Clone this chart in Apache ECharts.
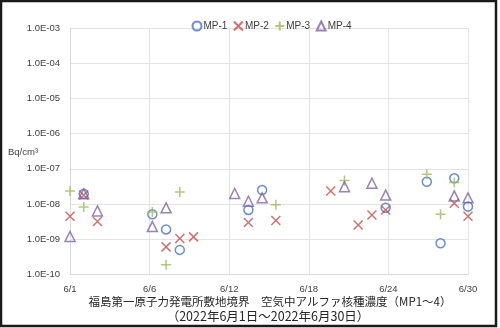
<!DOCTYPE html>
<html><head><meta charset="utf-8">
<script src="https://cdn.jsdelivr.net/npm/echarts@6/dist/echarts.min.js"></script>
<style>html,body{margin:0;padding:0;background:#fff}#c{width:500px;height:328px}</style>
</head><body><div id="c"></div>
<script>
// Day of June and concentration (Bq/cm3)
const mp1Days = [2, 7, 8, 9, 14, 15, 24, 27, 28, 29, 30];
const mp1Vals = [1.95e-8, 5.1e-9, 1.9e-9, 5.0e-10, 6.8e-9, 2.5e-8, 7.9e-9, 4.3e-8, 7.7e-10, 5.4e-8, 8.5e-9];
const mp2Days = [1, 2, 3, 8, 9, 10, 14, 16, 20, 22, 23, 24, 29, 30];
const mp2Vals = [4.5e-9, 1.8e-8, 3.2e-9, 6.1e-10, 1.05e-9, 1.17e-9, 3.0e-9, 3.4e-9, 2.35e-8, 2.55e-9, 4.9e-9, 6.8e-9, 1.06e-8, 4.5e-9];
const mp3Days = [1, 2, 7, 8, 9, 16, 21, 27, 28, 29];
const mp3Vals = [2.35e-8, 8.3e-9, 6.0e-9, 1.9e-10, 2.2e-8, 9.5e-9, 4.7e-8, 7.0e-8, 5.1e-9, 4.1e-8];
const mp4Days = [1, 2, 3, 7, 8, 13, 14, 15, 21, 23, 24, 29, 30];
const mp4Vals = [1.2e-9, 1.95e-8, 6.4e-9, 2.3e-9, 7.8e-9, 2.0e-8, 1.2e-8, 1.5e-8, 3.1e-8, 3.9e-8, 1.8e-8, 1.7e-8, 1.5e-8];
const seriesNames = ['MP-1', 'MP-2', 'MP-3', 'MP-4'];
const titleLine1 = '福島第一原子力発電所敷地境界　空気中アルファ核種濃度（MP1～4）';
const titleLine2 = '（2022年6月1日～2022年6月30日）';
const yUnit = 'Bq/cm³';

function pts(days, vals) { return days.map((d, i) => [d - 1, vals[i]]); }
const colors = ['#4472C4', '#C0504D', '#9BBB59', '#8064A2'];
const symbols = ['circle', 'path://M0,0L10,10M10,0L0,10', 'path://M5,0L5,10M0,5L10,5', 'triangle'];
const sizes = [9, 9, 10, 10];
const datas = [pts(mp1Days, mp1Vals), pts(mp2Days, mp2Vals), pts(mp3Days, mp3Vals), pts(mp4Days, mp4Vals)];

const chart = echarts.init(document.getElementById('c'), null, {renderer: 'canvas'});
const font = '"Liberation Sans", Arial, sans-serif';
const cjk = '"Noto Sans CJK JP", sans-serif';
chart.setOption({
  animation: false,
  textStyle: {fontFamily: font},
  grid: {left: 70, right: 32, top: 28, bottom: 53.5},
  legend: {
    top: 14, left: 185, itemWidth: 9, itemHeight: 9, itemGap: 4,
    textStyle: {fontSize: 10, color: '#404040', fontFamily: font, padding: [0, 0, 0, -3]},
    data: seriesNames
  },
  xAxis: {
    type: 'value', min: 0, max: 29, interval: 5.8,
    axisLine: {show: true, lineStyle: {color: '#d9d9d9'}},
    axisTick: {show: false},
    splitLine: {show: true, lineStyle: {color: '#e3e3e3'}},
    axisLabel: {fontSize: 9.5, color: '#404040', margin: 10,
      formatter: v => '6/' + (Math.floor(v + 1e-6) + 1)}
  },
  yAxis: {
    type: 'log', logBase: 10, min: 1e-10, max: 1e-3,
    axisLine: {show: true, lineStyle: {color: '#d9d9d9'}},
    axisTick: {show: false},
    splitLine: {show: true, lineStyle: {color: '#e3e3e3'}},
    minorSplitLine: {show: false},
    axisLabel: {fontSize: 9.5, color: '#404040', margin: 10,
      formatter: v => { const e = Math.round(Math.log10(v)); return '1.0E-' + String(-e).padStart(2, '0'); }}
  },
  series: seriesNames.map((n, i) => ({
    name: n, type: 'scatter', data: datas[i],
    symbol: symbols[i], symbolSize: sizes[i],
    itemStyle: {color: 'none', borderColor: colors[i], borderWidth: 1.5}
  })),
  graphic: [
    {type: 'rect', shape: {x: 1, y: 1, width: 495, height: 325}, style: {fill: 'none', stroke: '#1a1a1a', lineWidth: 2.5}, z: 100},
    {type: 'text', left: 8, top: 147, style: {text: yUnit, fontSize: 9.5, fill: '#404040', fontFamily: font}},
    {type: 'text', x: 270, y: 302, style: {text: titleLine1, textAlign: 'center', textVerticalAlign: 'middle', fontSize: 11.5, fill: '#262626', fontFamily: cjk}},
    {type: 'text', x: 268, y: 316, style: {text: titleLine2, textAlign: 'center', textVerticalAlign: 'middle', fontSize: 12.5, fill: '#262626', fontFamily: cjk}}
  ]
});
</script></body></html>
